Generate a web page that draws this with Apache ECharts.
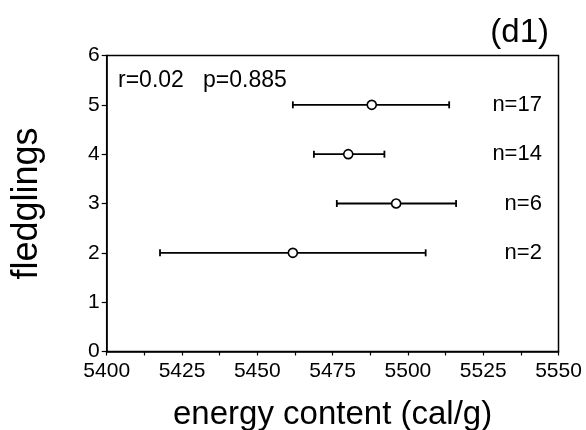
<!DOCTYPE html>
<html>
<head>
<meta charset="utf-8">
<script src="https://cdn.jsdelivr.net/npm/echarts@6/dist/echarts.min.js"></script>
<style>
html,body{margin:0;padding:0;background:#fff;}
#chart{width:586px;height:430px;}
</style>
</head>
<body>
<div id="chart"></div>
<script>
// Data
const fledglings = [5, 4, 3, 2];
const meanEnergy = [5488.0, 5480.2, 5496.1, 5461.8];
const lowerEnergy = [5461.8, 5468.8, 5476.4, 5417.7];
const upperEnergy = [5513.7, 5492.2, 5516.0, 5505.9];
const sampleLabels = ['n=17', 'n=14', 'n=6', 'n=2'];
const statsText = 'r=0.02   p=0.885';
const panelTitle = '(d1)';
const labelX = 5544.5;

const FONT = '"Liberation Sans", Arial, Helvetica, sans-serif';

const chart = echarts.init(document.getElementById('chart'), null, {renderer: 'canvas'});

const barData = fledglings.map((y, i) => [lowerEnergy[i], upperEnergy[i], y]);
const pointData = fledglings.map((y, i) => [meanEnergy[i], y]);
const nData = fledglings.map((y, i) => ({value: [labelX, y], name: sampleLabels[i]}));

const option = {
  animation: false,
  backgroundColor: '#fff',
  grid: {
    left: 106.7, right: 27.5, top: 55.5, bottom: 78.5,
    containLabel: false, outerBoundsMode: 'none',
    show: true, borderColor: '#000', borderWidth: 1.5, backgroundColor: 'transparent'
  },
  title: {
    text: panelTitle,
    right: 32, top: 11,
    textStyle: {fontFamily: FONT, fontSize: 33, fontWeight: 'normal', color: '#000'}
  },
  graphic: [{
    type: 'text',
    left: 118, top: 69,
    style: {text: statsText, fontFamily: FONT, fontSize: 23, fill: '#000'}
  }],
  xAxis: {
    type: 'value',
    min: 5400, max: 5550, interval: 25,
    name: 'energy content (cal/g)',
    nameLocation: 'middle', nameGap: 47,
    nameTextStyle: {fontFamily: FONT, fontSize: 33, color: '#000'},
    axisLine: {show: true, onZero: false, lineStyle: {color: '#000', width: 1.5}},
    axisTick: {show: true, inside: false, length: 4, lineStyle: {color: '#000', width: 1.2}},
    minorTick: {show: true, splitNumber: 2, length: 4, lineStyle: {color: '#000', width: 1.2}},
    axisLabel: {fontFamily: FONT, fontSize: 21, color: '#000', margin: 9,
      formatter: function (v) { return String(v); }},
    splitLine: {show: false}
  },
  yAxis: {
    type: 'value',
    min: 0, max: 6, interval: 1,
    name: 'fledglings',
    nameLocation: 'middle', nameGap: 62,
    nameTextStyle: {fontFamily: FONT, fontSize: 36, color: '#000'},
    axisLine: {show: true, onZero: false, lineStyle: {color: '#000', width: 1.5}},
    axisTick: {show: true, inside: false, length: 5, lineStyle: {color: '#000', width: 1.2}},
    axisLabel: {fontFamily: FONT, fontSize: 21, color: '#000', margin: 7,
      formatter: function (v) { return String(v); }},
    splitLine: {show: false}
  },
  series: [
    {
      type: 'custom',
      data: barData,
      encode: {x: [0, 1], y: 2},
      renderItem: function (params, api) {
        const y = api.value(2);
        const p1 = api.coord([api.value(0), y]);
        const p2 = api.coord([api.value(1), y]);
        const h = 3.5;
        const st = {stroke: '#000', lineWidth: 1.8};
        return {
          type: 'group',
          children: [
            {type: 'line', shape: {x1: p1[0], y1: p1[1], x2: p2[0], y2: p2[1]}, style: st},
            {type: 'line', shape: {x1: p1[0], y1: p1[1] - h, x2: p1[0], y2: p1[1] + h}, style: st},
            {type: 'line', shape: {x1: p2[0], y1: p2[1] - h, x2: p2[0], y2: p2[1] + h}, style: st}
          ]
        };
      },
      z: 2
    },
    {
      type: 'scatter',
      data: pointData,
      symbol: 'circle',
      symbolSize: 9,
      itemStyle: {color: '#fff', borderColor: '#000', borderWidth: 1.6, opacity: 1},
      z: 3
    },
    {
      type: 'scatter',
      data: nData,
      symbolSize: 0,
      silent: true,
      itemStyle: {opacity: 1, color: '#000'},
      label: {
        show: true, position: 'left', distance: 0,
        formatter: function (p) { return p.name; },
        fontFamily: FONT, fontSize: 22, color: '#000', opacity: 1
      },
      z: 3
    }
  ]
};

chart.setOption(option);
</script>
</body>
</html>
